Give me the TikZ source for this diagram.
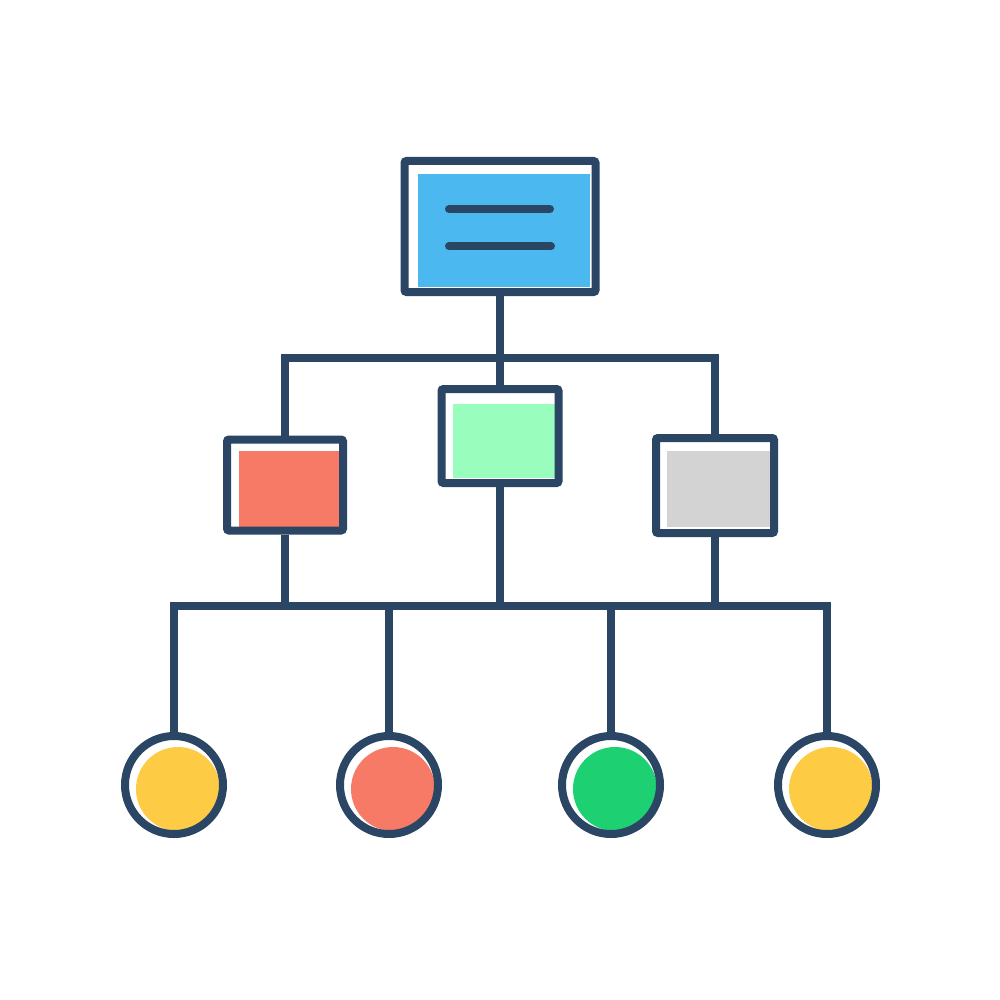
\documentclass[tikz,border=0pt]{standalone}
\definecolor{navy}{HTML}{2B4564}
\definecolor{skyblue}{HTML}{4BB8F0}
\definecolor{salmon}{HTML}{F67A66}
\definecolor{mint}{HTML}{99FDBE}
\definecolor{lightgray}{HTML}{D3D3D3}
\definecolor{leaf}{HTML}{1DD173}
\definecolor{sun}{HTML}{FDCB44}
\begin{document}
\begin{tikzpicture}[x=1pt,y=-1pt,
  wire/.style={draw=navy,line width=7.5pt,line join=miter},
  boxframe/.style={draw=navy,line width=8pt,rounded corners=2pt,inner sep=0pt,rectangle},
  boxfill/.style={inner sep=0pt,rectangle,draw=none},
  ringframe/.style={draw=navy,line width=8pt,circle,inner sep=0pt,minimum size=98pt},
  dotfill/.style={circle,inner sep=0pt,draw=none,minimum size=84pt},
  bar/.style={draw=navy,line width=8pt,line cap=round}]
\useasboundingbox[fill=white] (0,0) rectangle (1000,1000);
% coloured insets
\node[boxfill,fill=skyblue,minimum width=172pt,minimum height=113pt] (topfill) at (504,230.5) {};
\node[boxfill,fill=salmon,minimum width=100pt,minimum height=76pt] (redfill) at (289,489) {};
\node[boxfill,fill=mint,minimum width=102pt,minimum height=74pt] (greenfill) at (504,441) {};
\node[boxfill,fill=lightgray,minimum width=103pt,minimum height=76pt] (grayfill) at (718.5,489) {};
% frames
\node[boxframe,minimum width=191pt,minimum height=131pt] (top) at (500,226.5) {};
\node[boxframe,minimum width=116pt,minimum height=91pt] (red) at (285,485) {};
\node[boxframe,minimum width=117pt,minimum height=94pt] (green) at (500,436) {};
\node[boxframe,minimum width=118pt,minimum height=95pt] (gray) at (715,485.5) {};
% text bars in top box
\coordinate (l1a) at (449,209); \coordinate (l1b) at (550,209);
\coordinate (l2a) at (449,246); \coordinate (l2b) at (551,246);
\draw[bar] (l1a) -- (l1b);
\draw[bar] (l2a) -- (l2b);
% circles
\node[dotfill,fill=sun] (f1) at (178,789) {};
\node[dotfill,fill=salmon] (f2) at (393,789) {};
\node[dotfill,fill=leaf] (f3) at (615,789) {};
\node[dotfill,fill=sun] (f4) at (831,789) {};
\node[ringframe] (c1) at (174,785) {};
\node[ringframe] (c2) at (389,785) {};
\node[ringframe] (c3) at (611,785) {};
\node[ringframe] (c4) at (827,785) {};
% junctions
\coordinate (jt) at (500,358);
\coordinate (jl) at (285,358);
\coordinate (jr) at (715,358);
\coordinate (bl) at (174,606);
\coordinate (br) at (827,606);
% connectors
\draw[wire] (top.south) -- (jt);
\draw[wire] (red.north) -- (jl) -- (jr) -- (gray.north);
\draw[wire] (jt) -- (green.north);
\draw[wire] (red.south) -- (red.south |- bl);
\draw[wire] (green.south) -- (green.south |- bl);
\draw[wire] (gray.south) -- (gray.south |- bl);
\draw[wire] (c1.north) -- (bl) -- (br) -- (c4.north);
\draw[wire] (c2.north) -- (c2.north |- bl);
\draw[wire] (c3.north) -- (c3.north |- bl);
\end{tikzpicture}
\end{document}
